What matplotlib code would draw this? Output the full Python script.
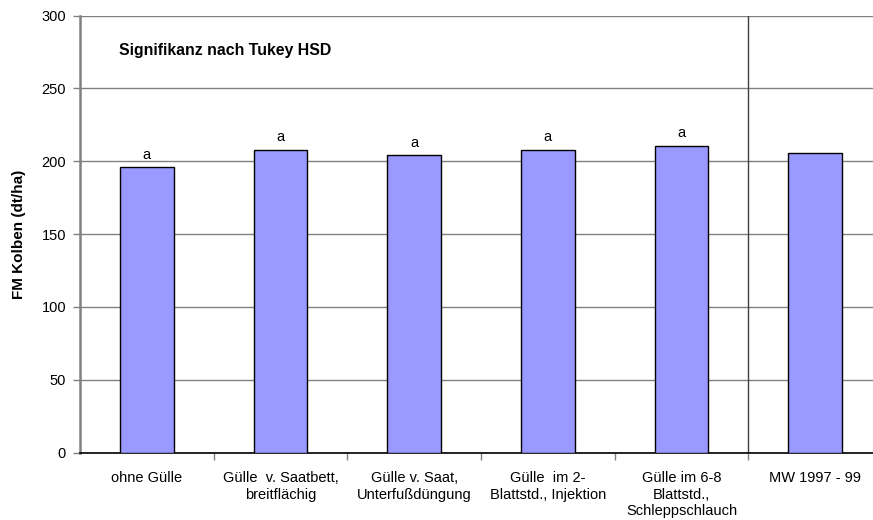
import matplotlib
matplotlib.use("Agg")
import matplotlib.pyplot as plt
import numpy as np

plt.rcParams['font.family'] = ['Liberation Sans', 'DejaVu Sans']

categories = ["ohne Gülle", "Gülle  v. Saatbett,\nbreitflächig", "Gülle v. Saat,\nUnterfußdüngung",
              "Gülle  im 2-\nBlattstd., Injektion", "Gülle im 6-8\nBlattstd.,\nSchleppschlauch",
              "MW 1997 - 99"]
values = [196, 208, 204, 208, 210.5, 205.5]
letters = ["a", "a", "a", "a", "a", ""]
yticks = [0, 50, 100, 150, 200, 250, 300]
ylabel = "FM Kolben (dt/ha)"
note = "Signifikanz nach Tukey HSD"

fig = plt.figure(figsize=(8.73, 5.2), dpi=100)
ax = fig.add_axes([80/873, 1-452.7/520, 802/873, (452.7-15.5)/520])

x = np.arange(len(categories))
ax.bar(x, values, width=0.4, color="#9999FF", edgecolor="black", linewidth=1.0, zorder=3)
for xi, v, l in zip(x, values, letters):
    if l:
        ax.annotate(l, (xi, v), xytext=(0, 4), textcoords="offset points",
                    ha="center", va="bottom", fontsize=10.5)

ax.set_xlim(-0.5, len(categories) - 0.5)
ax.set_ylim(0, 300)
ax.set_yticks(yticks)
ax.tick_params(axis='y', labelsize=10.5, length=5, width=1, color="#808080", pad=5)
ax.yaxis.grid(True, color="#808080", linewidth=1, zorder=0)
ax.set_axisbelow(True)

ax.set_xticks(x[:-1] + 0.5)
ax.set_xticklabels([])
ax.tick_params(axis='x', which='major', length=5, width=1, color="#808080")
ax.set_xticks(x, minor=True)
ax.set_xticklabels(categories, minor=True, fontsize=10.5, linespacing=1.25, va="top")
ax.tick_params(axis='x', which='minor', length=0, pad=13)

ax.axvline(4.5, color="#404040", linewidth=1, zorder=2)

for s in ["top", "right"]:
    ax.spines[s].set_visible(False)
ax.spines["left"].set_color("#808080")
ax.spines["left"].set_linewidth(1.8)
ax.spines["bottom"].set_color("black")
ax.spines["bottom"].set_linewidth(1.2)

ax.set_ylabel(ylabel, fontsize=11, fontweight="bold", labelpad=11)
ax.text(39/802, (452.7-51)/437.2, note, transform=ax.transAxes, fontsize=11.4, fontweight="bold",
        ha="left", va="center")

fig.savefig("out.png", dpi=100)
